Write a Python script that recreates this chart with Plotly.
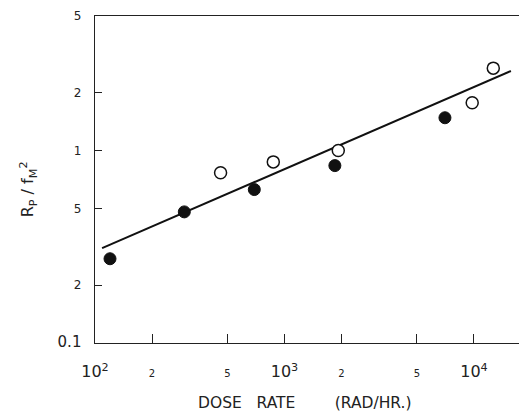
import plotly.graph_objects as go

# Filled circles
filled_x = [120, 296, 693, 1845, 7030]
filled_y = [0.274, 0.48, 0.627, 0.835, 1.48]
# Open circles
open_x = [460, 873, 1923, 9790, 12650]
open_y = [0.766, 0.873, 1.0, 1.77, 2.68]
# Fitted line endpoints
line_x = [109, 15670]
line_y = [0.311, 2.59]

x_tickvals = [100, 200, 500, 1000, 2000, 5000, 10000]
x_ticktext = ["10<sup>2</sup>", "<span style='font-size:10px'>2</span>",
              "<span style='font-size:10px'>5</span>", "10<sup>3</sup>",
              "<span style='font-size:10px'>2</span>",
              "<span style='font-size:10px'>5</span>", "10<sup>4</sup>"]
y_tickvals = [0.1, 0.2, 0.5, 1, 2, 5]
y_ticktext = ["<span style='font-size:15px'>0.1</span>", "2", "5", "1", "2", "5"]

ink = "#222222"

fig = go.Figure()
fig.add_trace(go.Scatter(x=line_x, y=line_y, mode="lines",
                         line=dict(color="#111111", width=2), showlegend=False))
fig.add_trace(go.Scatter(x=filled_x, y=filled_y, mode="markers",
                         marker=dict(size=12, color="#111111",
                                     line=dict(color="#111111", width=1)),
                         showlegend=False))
fig.add_trace(go.Scatter(x=open_x, y=open_y, mode="markers",
                         marker=dict(size=12, color="white",
                                     line=dict(color="#111111", width=1.5)),
                         showlegend=False))

fig.update_layout(
    width=519, height=408,
    margin=dict(l=87, r=0, t=8, b=73),
    paper_bgcolor="white", plot_bgcolor="white",
    font=dict(family="DejaVu Sans", color=ink),
    xaxis=dict(type="log", range=[2, 4.28], showgrid=False, zeroline=False,
               showline=True, linecolor=ink, linewidth=1.3, mirror=True,
               ticks="inside", ticklen=9, tickcolor=ink, tickwidth=1,
               tickvals=x_tickvals, ticktext=x_ticktext,
               tickfont=dict(size=16, color=ink), ticklabelstandoff=14),
    yaxis=dict(type="log", range=[-1, 0.699], showgrid=False, zeroline=False,
               showline=True, linecolor=ink, linewidth=1.3,
               ticks="inside", ticklen=7, tickcolor=ink, tickwidth=1,
               tickvals=y_tickvals, ticktext=y_ticktext,
               tickfont=dict(size=12, color=ink), ticklabelstandoff=10),
    annotations=[
        dict(text="DOSE&nbsp;&nbsp;&nbsp;RATE&nbsp;&nbsp;&nbsp;&nbsp;&nbsp;&nbsp;&nbsp;&nbsp;(RAD/HR.)",
             xref="paper", yref="paper", x=0.486, y=-0.183,
             xanchor="center", yanchor="middle", showarrow=False,
             font=dict(size=15.5, color=ink)),
        dict(text="R<sub>P</sub> / f<sub>M</sub><sup>2</sup>",
             xref="paper", yref="paper", x=-0.155, y=0.47, textangle=-90,
             xanchor="center", yanchor="middle", showarrow=False,
             font=dict(size=16, color=ink)),
    ],
)

fig.write_html("out.html")
